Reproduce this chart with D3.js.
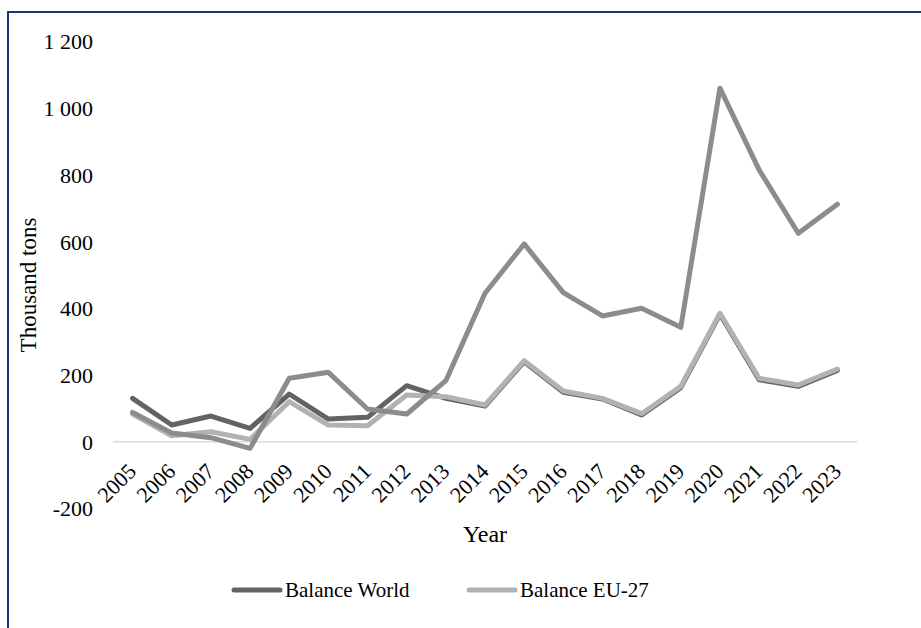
<!DOCTYPE html>
<html>
<head>
<meta charset="utf-8">
<script src="https://cdn.jsdelivr.net/npm/d3@7"></script>
<style>
  html, body { margin: 0; padding: 0; background: #fff; }
  svg { display: block; font-family: "Liberation Serif", "Times New Roman", serif; }
</style>
</head>
<body>
<svg id="chart" width="921" height="628"></svg>
<script>
// Years on the category axis
const years = ["2005","2006","2007","2008","2009","2010","2011","2012","2013","2014",
               "2015","2016","2017","2018","2019","2020","2021","2022","2023"];

// Trade balance, thousand tons
const balanceWorld = [130, 50, 77, 40, 143, 68, 73, 168, 130, 107,
                      240, 148, 128, 80, 162, 382, 186, 166, 214];
const balanceEU27  = [83, 18, 30, 7, 120, 50, 48, 140, 135, 110,
                      243, 152, 130, 84, 166, 385, 190, 170, 218];
// Third plotted series (no legend entry)
const balanceOther = [88, 26, 12, -20, 190, 208, 98, 83, 183, 445,
                      593, 447, 377, 400, 343, 1060, 815, 625, 712];

const yTicks = [-200, 0, 200, 400, 600, 800, 1000, 1200];
const yTitle = "Thousand tons";
const xTitle = "Year";

const series = [
  { name: "Balance World", values: balanceWorld, color: "#636363", legend: true },
  { name: "Balance EU-27", values: balanceEU27, color: "#b2b2b2", legend: true },
  { name: "", values: balanceOther, color: "#8c8c8c", legend: false }
];

const svg = d3.select("#chart");

// Outer frame (only top and left edges fall inside the view)
svg.append("rect")
  .attr("x", 8).attr("y", 12)
  .attr("width", 1000).attr("height", 1000)
  .attr("fill", "none")
  .attr("stroke", "#1d3577")
  .attr("stroke-width", 2);

const x = d3.scaleBand().domain(years).range([113, 857]).padding(0);
const y = d3.scaleLinear().domain([-200, 1200]).range([508.4, 41.5]);
const cx = d => x(d) + x.bandwidth() / 2;

// Thousands separated by a space, plain hyphen for negatives
const fmt = v => d3.format(",")(v).replace(/,/g, "\u00a0").replace("\u2212", "-");

// Y axis tick labels (no axis line, no gridlines)
const yAxis = d3.axisLeft(y).tickValues(yTicks).tickSize(0).tickPadding(0).tickFormat(fmt);
const yg = svg.append("g").attr("transform", "translate(93,0)").call(yAxis);
yg.attr("font-family", null).attr("font-size", null);
yg.select(".domain").remove();
yg.selectAll("text")
  .attr("font-size", 22)
  .attr("fill", "#000")
  .attr("dy", "0.34em");

// Zero line
svg.append("line")
  .attr("x1", x.range()[0]).attr("x2", x.range()[1])
  .attr("y1", y(0)).attr("y2", y(0))
  .attr("stroke", "#d9d9d9").attr("stroke-width", 1.5);

// X axis tick labels, rotated
const xAxis = d3.axisBottom(x).tickSize(0).tickPadding(0);
const xg = svg.append("g").attr("transform", `translate(0,${y(0)})`).call(xAxis);
xg.attr("font-family", null).attr("font-size", null);
xg.select(".domain").remove();
xg.selectAll("text")
  .attr("font-size", 22)
  .attr("fill", "#000")
  .attr("text-anchor", "end")
  .attr("dy", null)
  .attr("y", 0)
  .attr("transform", "translate(5,31) rotate(-45)");

// Lines
const line = d3.line()
  .x((d, i) => cx(years[i]))
  .y(d => y(d));

svg.append("g").selectAll("path")
  .data(series)
  .join("path")
  .attr("d", s => line(s.values))
  .attr("fill", "none")
  .attr("stroke", s => s.color)
  .attr("stroke-width", 5)
  .attr("stroke-linejoin", "round")
  .attr("stroke-linecap", "round");

// Axis titles
svg.append("text")
  .attr("transform", "translate(36,285) rotate(-90)")
  .attr("text-anchor", "middle")
  .attr("font-size", 23)
  .attr("fill", "#000")
  .text(yTitle);

svg.append("text")
  .attr("x", 485).attr("y", 542)
  .attr("text-anchor", "middle")
  .attr("font-size", 24)
  .attr("fill", "#000")
  .text(xTitle);

// Legend
const legendItems = series.filter(s => s.legend);
const legendX = [234, 469];
const lg = svg.append("g").selectAll("g")
  .data(legendItems)
  .join("g")
  .attr("transform", (d, i) => `translate(${legendX[i]},590)`);
lg.append("line")
  .attr("x1", 0).attr("x2", 46)
  .attr("stroke", d => d.color)
  .attr("stroke-width", 5)
  .attr("stroke-linecap", "round");
lg.append("text")
  .attr("x", 51).attr("y", 7)
  .attr("font-size", 21)
  .attr("fill", "#000")
  .text(d => d.name);
</script>
</body>
</html>
